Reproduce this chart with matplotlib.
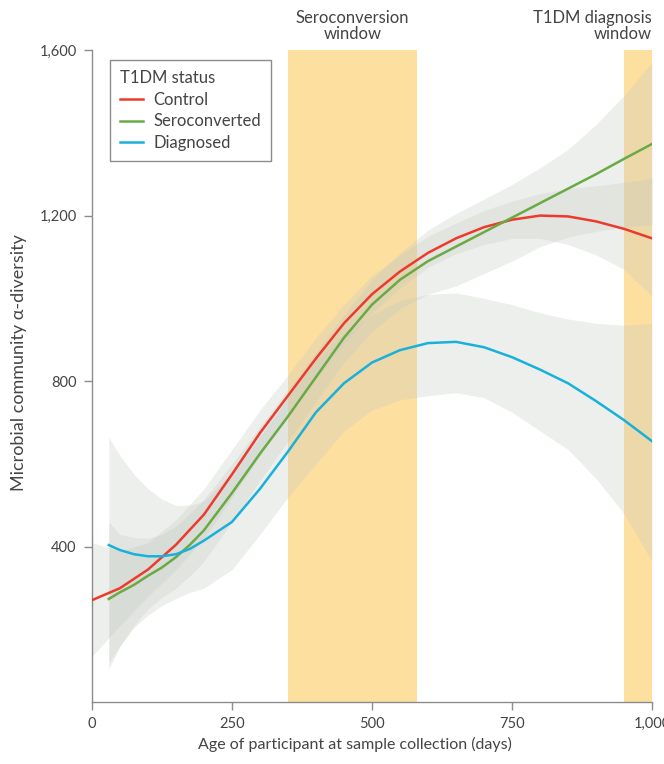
import matplotlib
matplotlib.use('Agg')
import matplotlib.pyplot as plt
import matplotlib.transforms as mtransforms

plt.rcParams['font.family'] = ['Lato', 'DejaVu Sans']

# ---- data ----
days = [0, 50, 100, 150, 200, 250, 300, 350, 400, 450, 500,
        550, 600, 650, 700, 750, 800, 850, 900, 950, 1000]
control = [271, 300, 345, 405, 478, 575, 675, 765, 855, 940, 1010,
           1065, 1110, 1145, 1172, 1190, 1200, 1198, 1186, 1168, 1145]
control_lo = [135, 210, 280, 345, 420, 520, 620, 715, 805, 890, 965,
              1025, 1075, 1108, 1130, 1145, 1145, 1130, 1105, 1070, 1005]
control_hi = [410, 390, 410, 465, 540, 635, 730, 815, 905, 985, 1055,
              1105, 1150, 1182, 1212, 1235, 1253, 1265, 1272, 1280, 1290]

days_s = [30, 50, 75, 100, 125, 150, 175, 200, 250, 300, 350, 400, 450, 500,
          550, 600, 650, 700, 750, 800, 850, 900, 950, 1000]
sero = [274, 290, 308, 330, 350, 375, 405, 440, 530, 625, 715, 810, 905, 985,
        1045, 1090, 1125, 1160, 1195, 1230, 1265, 1300, 1337, 1373]
sero_lo = [105, 160, 210, 250, 278, 300, 330, 365, 460, 560, 655, 750, 845, 920,
           975, 1010, 1030, 1060, 1090, 1125, 1148, 1162, 1172, 1178]
sero_hi = [460, 430, 422, 420, 430, 450, 480, 515, 600, 690, 780, 870, 960, 1045,
           1110, 1165, 1205, 1240, 1275, 1315, 1360, 1420, 1490, 1570]

diag = [404, 392, 382, 377, 377, 382, 395, 415, 460, 540, 630, 725, 795, 845,
        875, 892, 895, 882, 858, 828, 795, 752, 706, 655]
diag_lo = [120, 160, 205, 235, 258, 275, 290, 300, 345, 430, 520, 600, 680, 730,
           755, 765, 772, 760, 725, 680, 635, 565, 480, 365]
diag_hi = [664, 620, 575, 540, 515, 500, 500, 510, 580, 665, 760, 850, 915, 960,
           995, 1010, 1013, 1000, 985, 965, 950, 940, 935, 940]

windows = [(350, 580), (950, 1000)]
window_labels = ['Seroconversion\nwindow', 'T1DM diagnosis\nwindow']

xticks = [0, 250, 500, 750, 1000]
xtick_labels = ['0', '250', '500', '750', '1,000']
yticks = [400, 800, 1200, 1600]
ytick_labels = ['400', '800', '1,200', '1,600']

RED = '#ec3a2d'
GREEN = '#6aaa45'
BLUE = '#1ab0dc'
BAND = '#c6cbc2'
WIN = '#fddf9f'
AXC = '#8c8c8c'
TXT = '#444444'

fig = plt.figure(figsize=(6.64, 7.64), dpi=100)
ax = fig.add_axes([92 / 664, 1 - 702 / 764, 560 / 664, 652 / 764])

for x0, x1 in windows:
    ax.axvspan(x0, x1, color=WIN, lw=0, zorder=0)

ax.fill_between(days, control_lo, control_hi, color=BAND, alpha=0.3, lw=0, zorder=1)
ax.fill_between(days_s, sero_lo, sero_hi, color=BAND, alpha=0.3, lw=0, zorder=1)
ax.fill_between(days_s, diag_lo, diag_hi, color=BAND, alpha=0.3, lw=0, zorder=1)

ax.plot(days, control, color=RED, lw=1.8, label='Control', zorder=3)
ax.plot(days_s, sero, color=GREEN, lw=1.8, label='Seroconverted', zorder=3)
ax.plot(days_s, diag, color=BLUE, lw=1.8, label='Diagnosed', zorder=3)

ax.set_xlim(0, 1000)
ax.set_ylim(25, 1600)
ax.set_xticks(xticks)
ax.set_xticklabels(xtick_labels)
ax.set_yticks(yticks)
ax.set_yticklabels(ytick_labels)

for s in ['top', 'right']:
    ax.spines[s].set_visible(False)
for s in ['left', 'bottom']:
    ax.spines[s].set_color(AXC)
    ax.spines[s].set_linewidth(1.0)
ax.tick_params(direction='out', length=6, width=1.0, color=AXC,
               labelcolor=TXT, labelsize=10.5, pad=5)

ax.set_xlabel('Age of participant at sample collection (days)',
              fontsize=11.5, color=TXT)
ax.xaxis.set_label_coords(0.47, -0.053)
ax.set_ylabel('Microbial community α-diversity', fontsize=13, color=TXT)
ax.yaxis.set_label_coords(-0.116, 0.52)

trans = mtransforms.blended_transform_factory(ax.transData, ax.transAxes)
ax.text((windows[0][0] + windows[0][1]) / 2, 1.012, window_labels[0],
        transform=trans, ha='center', va='bottom', fontsize=12,
        color=TXT, linespacing=1.05)
ax.text(windows[1][1], 1.012, window_labels[1], transform=trans,
        ha='right', va='bottom', fontsize=12, color=TXT,
        linespacing=1.05, multialignment='right')

leg = ax.legend(title='T1DM status', loc='upper left',
                bbox_to_anchor=(0.032, 0.985), fontsize=12,
                title_fontsize=12, frameon=True, fancybox=False,
                handlelength=1.4, handletextpad=0.6, labelspacing=0.35,
                borderpad=0.6, borderaxespad=0)
leg.get_frame().set_edgecolor(AXC)
leg.get_frame().set_linewidth(1.0)
leg.get_frame().set_facecolor('white')
leg.get_frame().set_alpha(1)
leg._legend_box.align = 'left'
for t in leg.get_texts():
    t.set_color(TXT)
leg.get_title().set_color(TXT)

fig.savefig('out.png', dpi=100)
